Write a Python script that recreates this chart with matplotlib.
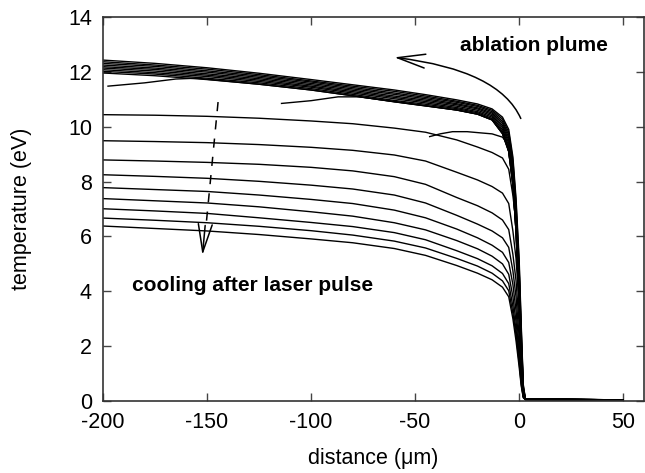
import matplotlib
matplotlib.use('Agg')
import matplotlib.pyplot as plt

# Общая сетка по x (мкм)
x_grid = [-200, -175, -150, -125, -100, -80, -60, -45, -30, -20, -13, -8, -5, -3, -1.5, 0, 1, 2, 3, 50]

# Пучок кривых факела (температура, эВ)
plume_curves = [
    [12.43, 12.31, 12.15, 11.95, 11.72, 11.53, 11.34, 11.17, 10.98, 10.83, 10.65, 10.35, 9.90, 8.90, 7.40, 5.20, 2.80, 0.60, 0.08, 0.04],
    [12.37, 12.25, 12.10, 11.90, 11.67, 11.48, 11.29, 11.12, 10.93, 10.78, 10.60, 10.28, 9.80, 8.78, 7.25, 5.00, 2.65, 0.55, 0.08, 0.04],
    [12.31, 12.20, 12.04, 11.85, 11.63, 11.43, 11.23, 11.07, 10.89, 10.74, 10.55, 10.20, 9.70, 8.65, 7.10, 4.80, 2.50, 0.50, 0.07, 0.04],
    [12.25, 12.14, 11.99, 11.80, 11.58, 11.38, 11.18, 11.02, 10.84, 10.69, 10.50, 10.13, 9.60, 8.53, 6.95, 4.60, 2.35, 0.45, 0.07, 0.04],
    [12.19, 12.09, 11.93, 11.75, 11.53, 11.33, 11.12, 10.97, 10.80, 10.65, 10.45, 10.05, 9.50, 8.40, 6.80, 4.40, 2.20, 0.40, 0.07, 0.04],
    [12.14, 12.03, 11.88, 11.70, 11.48, 11.28, 11.07, 10.92, 10.75, 10.60, 10.40, 9.98, 9.40, 8.28, 6.65, 4.20, 2.05, 0.35, 0.07, 0.04],
    [12.08, 11.97, 11.83, 11.65, 11.44, 11.23, 11.02, 10.87, 10.70, 10.55, 10.35, 9.90, 9.30, 8.15, 6.50, 4.00, 1.90, 0.30, 0.06, 0.04],
    [12.02, 11.92, 11.77, 11.60, 11.39, 11.18, 10.96, 10.82, 10.66, 10.51, 10.30, 9.83, 9.20, 8.03, 6.35, 3.80, 1.75, 0.25, 0.06, 0.04],
    [11.96, 11.86, 11.72, 11.55, 11.34, 11.13, 10.91, 10.76, 10.61, 10.46, 10.25, 9.75, 9.10, 7.90, 6.20, 3.60, 1.60, 0.20, 0.06, 0.04],
]

# Кривые, у которых фронт факела ещё внутри области
x_early_1 = [-197.6, -180, -165, -155, -150, -125, -100, -80, -60, -45, -30, -20, -13, -8, -5, -3, -1.5, 0, 1, 2, 3, 50]
t_early_1 = [11.48, 11.60, 11.74, 11.77, 11.73, 11.55, 11.34, 11.13, 10.91, 10.76, 10.61, 10.46, 10.25, 9.75, 9.10, 7.90, 6.20, 3.60, 1.60, 0.20, 0.06, 0.04]
x_early_2 = [-114.2, -100, -87, -77, -60, -45, -30, -20, -13, -8, -5, -3, -1.5, 0, 1, 2, 3, 50]
t_early_2 = [10.85, 10.95, 11.09, 11.09, 10.92, 10.77, 10.61, 10.46, 10.25, 9.75, 9.10, 7.90, 6.20, 3.60, 1.60, 0.20, 0.06, 0.04]
x_early_3 = [-43, -38, -32, -25, -17.6, -13, -8, -6, -5, -3, -1.5, 0, 1, 2, 3, 50]
t_early_3 = [9.64, 9.74, 9.82, 9.82, 9.77, 9.74, 9.62, 9.42, 9.10, 7.90, 6.20, 3.60, 1.60, 0.20, 0.06, 0.04]

# Остывание после окончания лазерного импульса
cool_curves = [
    [10.44, 10.42, 10.38, 10.31, 10.21, 10.11, 9.95, 9.80, 9.52, 9.26, 9.06, 8.86, 8.45, 7.50, 6.50, 4.80, 2.20, 0.45, 0.08, 0.04],
    [9.49, 9.46, 9.42, 9.35, 9.25, 9.14, 8.97, 8.75, 8.34, 8.06, 7.82, 7.58, 7.20, 6.20, 5.20, 3.50, 1.60, 0.32, 0.07, 0.04],
    [8.79, 8.75, 8.70, 8.63, 8.52, 8.39, 8.18, 7.90, 7.42, 7.12, 6.86, 6.60, 6.25, 5.35, 4.40, 2.80, 1.25, 0.26, 0.07, 0.04],
    [8.25, 8.19, 8.12, 8.01, 7.87, 7.73, 7.51, 7.22, 6.77, 6.45, 6.20, 5.95, 5.60, 4.75, 3.80, 2.35, 1.05, 0.22, 0.06, 0.04],
    [7.78, 7.71, 7.64, 7.51, 7.35, 7.20, 6.96, 6.68, 6.27, 5.95, 5.68, 5.42, 5.05, 4.25, 3.30, 2.00, 0.90, 0.19, 0.06, 0.04],
    [7.38, 7.30, 7.22, 7.08, 6.90, 6.74, 6.50, 6.24, 5.85, 5.55, 5.28, 5.00, 4.62, 3.80, 2.90, 1.75, 0.80, 0.17, 0.05, 0.04],
    [7.01, 6.93, 6.84, 6.68, 6.51, 6.36, 6.14, 5.88, 5.48, 5.19, 4.93, 4.65, 4.28, 3.45, 2.60, 1.55, 0.70, 0.15, 0.05, 0.04],
    [6.67, 6.59, 6.50, 6.37, 6.21, 6.05, 5.83, 5.58, 5.20, 4.92, 4.66, 4.38, 4.02, 3.20, 2.40, 1.40, 0.62, 0.13, 0.05, 0.04],
    [6.38, 6.29, 6.20, 6.07, 5.91, 5.77, 5.56, 5.31, 4.94, 4.66, 4.42, 4.15, 3.80, 3.00, 2.20, 1.25, 0.55, 0.12, 0.05, 0.04],
]

x_ticks = [-200, -150, -100, -50, 0, 50]
y_ticks = [0, 2, 4, 6, 8, 10, 12, 14]

# Подписи и стрелки
plume_arrow_from = (0.8, 10.3)
plume_arrow_to = (-60, 12.53)
cool_dash = ([-144.7, -150.6], [10.9, 6.3])
cool_arrow_from = (-150.9, 6.4)
cool_arrow_to = (-152.2, 5.32)


def main():
    plt.rcParams['font.family'] = ['Liberation Sans', 'DejaVu Sans']
    fig = plt.figure(figsize=(6.45, 4.73), dpi=100)
    ax = fig.add_axes([0.1597, 0.1522, 0.8387, 0.8118])

    lw = 1.0
    for t in plume_curves:
        ax.plot(x_grid, t, color='black', lw=lw)
    ax.plot(x_early_1, t_early_1, color='black', lw=lw)
    ax.plot(x_early_2, t_early_2, color='black', lw=lw)
    ax.plot(x_early_3, t_early_3, color='black', lw=lw)
    for t in cool_curves:
        ax.plot(x_grid, t, color='black', lw=lw)

    head = '->, head_length=1.0, head_width=0.25'

    # Стрелка "ablation plume"
    ax.annotate('', xy=plume_arrow_to, xytext=plume_arrow_from,
                arrowprops=dict(arrowstyle=head,
                                connectionstyle='angle3,angleA=114,angleB=173',
                                color='black', lw=1.1, mutation_scale=20,
                                shrinkA=0, shrinkB=0))
    ax.text(-28.2, 12.98, 'ablation plume', fontsize=15, fontweight='bold',
            ha='left', va='center')

    # Пунктирная стрелка остывания
    ax.plot(cool_dash[0], cool_dash[1], color='black', lw=1.1, ls=(0, (6, 6)))
    ax.annotate('', xy=cool_arrow_to, xytext=cool_arrow_from,
                arrowprops=dict(arrowstyle=head,
                                color='black', lw=1.1, mutation_scale=20,
                                shrinkA=0, shrinkB=0))
    ax.text(-186, 4.2, 'cooling after laser pulse', fontsize=15, fontweight='bold',
            ha='left', va='center')

    ax.set_xlim(-200, 60)
    ax.set_ylim(0, 14)
    ax.set_xticks(x_ticks)
    ax.set_xticklabels([str(v) for v in x_ticks])
    ax.set_yticks(y_ticks)
    ax.tick_params(direction='in', top=True, right=True, length=6, width=1,
                   color='#444444', labelsize=15.5, pad=8)
    for s in ax.spines.values():
        s.set_color('#333333')
        s.set_linewidth(1.2)
    ax.set_xlabel('distance (\u03bcm)', fontsize=15.5, labelpad=11)
    ax.set_ylabel('temperature (eV)', fontsize=15.5, labelpad=26)

    fig.savefig('out.png', dpi=100)


if __name__ == '__main__':
    main()
